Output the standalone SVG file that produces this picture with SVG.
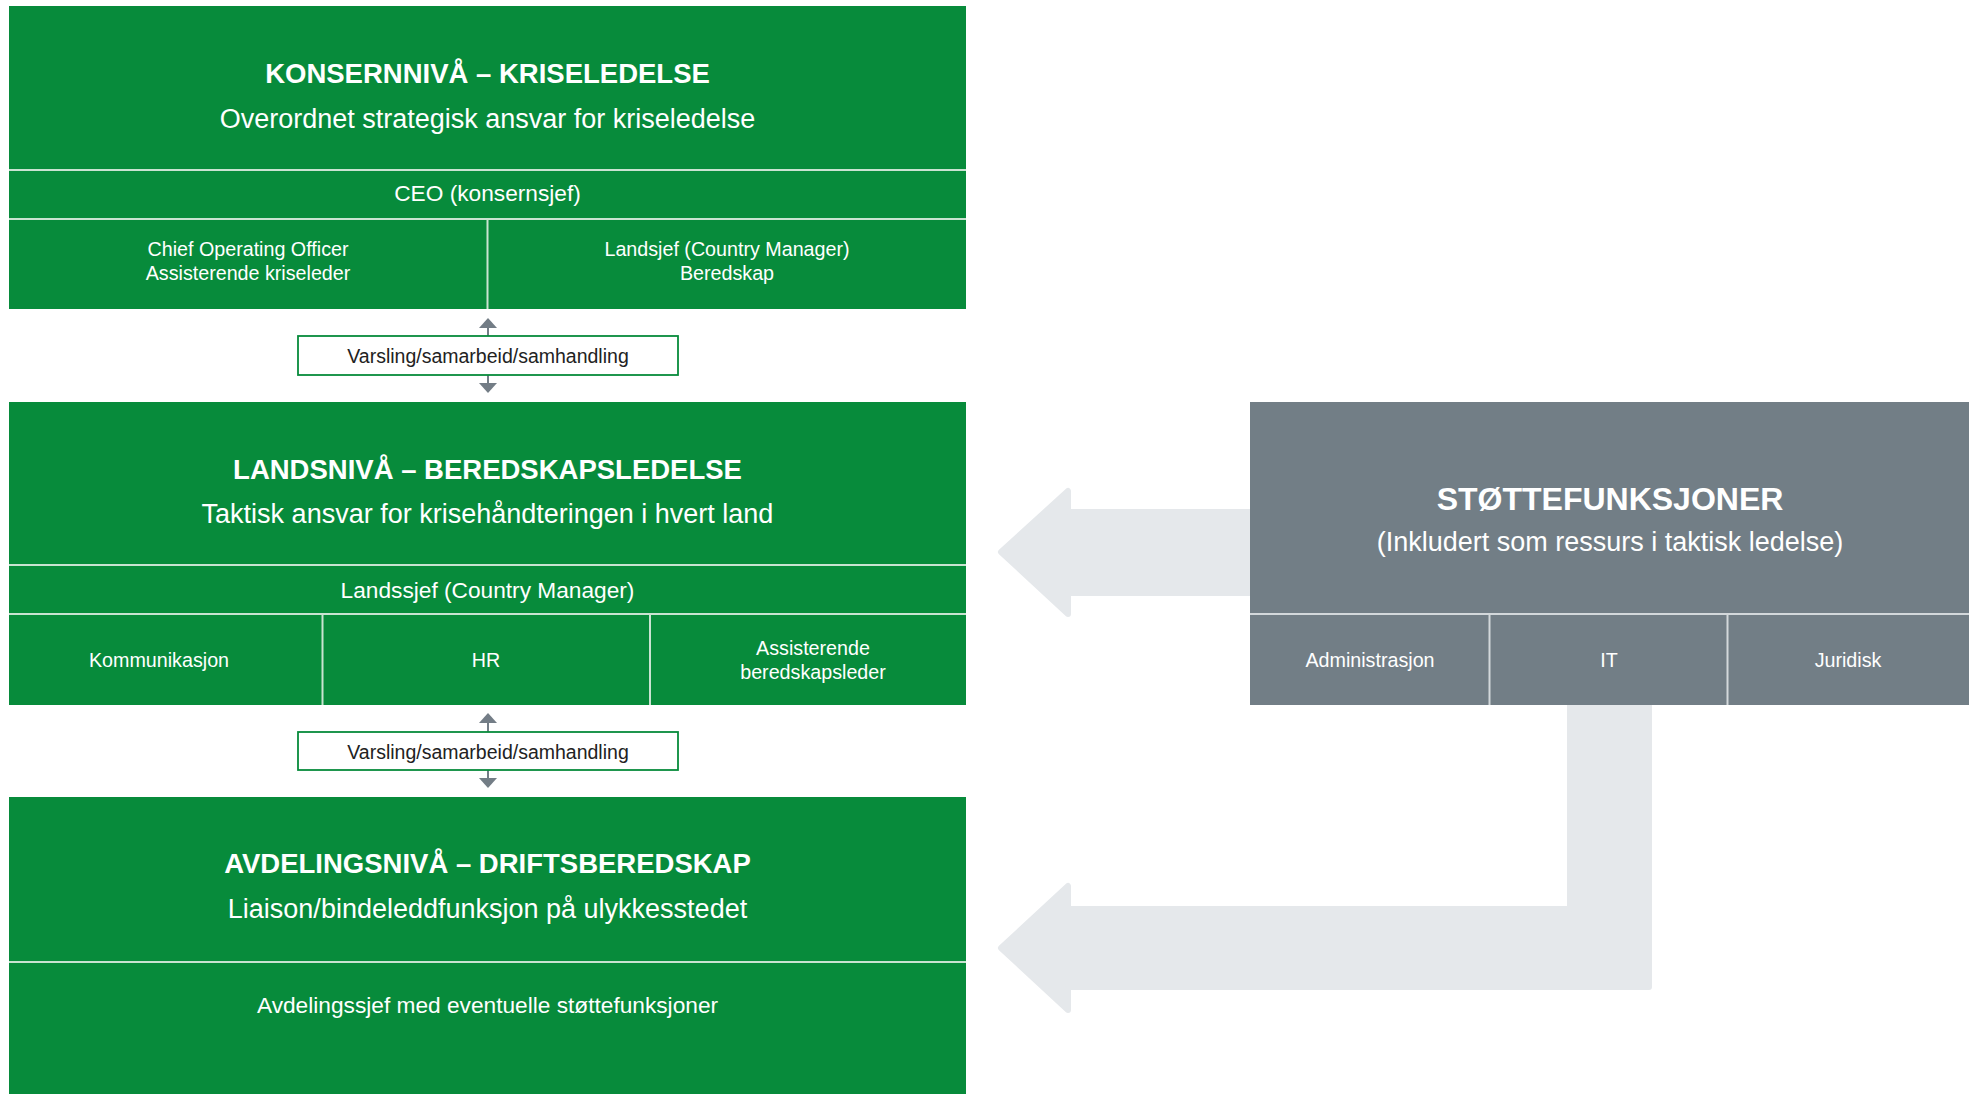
<svg xmlns="http://www.w3.org/2000/svg" width="1970" height="1094" viewBox="0 0 1970 1094">
<style>
.g{fill:#078b3b}
.s{fill:#727e86}
.dv{stroke:#c9e3d1;stroke-width:2;fill:none}
.dg{stroke:#d3d8db;stroke-width:2;fill:none}
text{font-family:"Liberation Sans",Arial,sans-serif;text-anchor:middle;fill:#ffffff}
.t{font-weight:bold;font-size:27.5px}
.st{font-size:27px}
.h{font-size:22.7px}
.sm{font-size:19.7px}
.lb{font-size:19.5px;fill:#222222}
.lbox{fill:#ffffff;stroke:#078b3b;stroke-width:1.8}
.big{fill:#e5e8eb;stroke:#e5e8eb;stroke-width:6;stroke-linejoin:round}
.sa{fill:#737d86}
.sl{stroke:#737d86;stroke-width:2}
</style>
<g id="connectors">
<path class="big" d="M1001,552 L1068,491 L1068,512 L1255,512 L1255,593 L1068,593 L1068,614 Z"/>
<path class="big" d="M1001,948 L1068,886 L1068,909 L1570,909 L1570,700 L1649,700 L1649,987 L1068,987 L1068,1010 Z"/>
<line class="sl" x1="488" y1="327" x2="488" y2="336"/>
<polygon class="sa" points="488,318 497,328 479,328"/>
<line class="sl" x1="488" y1="375" x2="488" y2="384"/>
<polygon class="sa" points="479,383 497,383 488,393"/>
<line class="sl" x1="488" y1="722" x2="488" y2="732"/>
<polygon class="sa" points="488,713 497,723 479,723"/>
<line class="sl" x1="488" y1="770" x2="488" y2="779"/>
<polygon class="sa" points="479,778 497,778 488,788"/>
</g>
<g id="konsern">
<rect class="g" x="9" y="6" width="957" height="303"/>
<line class="dv" x1="9" y1="170" x2="966" y2="170"/>
<line class="dv" x1="9" y1="219" x2="966" y2="219"/>
<line class="dv" x1="487.5" y1="219" x2="487.5" y2="309"/>
<text class="t" x="487.5" y="83">KONSERNNIVÅ – KRISELEDELSE</text>
<text class="st" x="487.5" y="128">Overordnet strategisk ansvar for kriseledelse</text>
<text class="h" x="487.5" y="201">CEO (konsernsjef)</text>
<text class="sm" x="248" y="256">Chief Operating Officer</text>
<text class="sm" x="248" y="280">Assisterende kriseleder</text>
<text class="sm" x="727" y="256">Landsjef (Country Manager)</text>
<text class="sm" x="727" y="280">Beredskap</text>
</g>
<g id="label1">
<rect class="lbox" x="298" y="336" width="380" height="39"/>
<text class="lb" x="488" y="362.5">Varsling/samarbeid/samhandling</text>
</g>
<g id="lands">
<rect class="g" x="9" y="402" width="957" height="303"/>
<line class="dv" x1="9" y1="565" x2="966" y2="565"/>
<line class="dv" x1="9" y1="614" x2="966" y2="614"/>
<line class="dv" x1="322.5" y1="614" x2="322.5" y2="705"/>
<line class="dv" x1="650" y1="614" x2="650" y2="705"/>
<text class="t" x="487.5" y="479">LANDSNIVÅ – BEREDSKAPSLEDELSE</text>
<text class="st" x="487.5" y="523">Taktisk ansvar for krisehåndteringen i hvert land</text>
<text class="h" x="487.5" y="598">Landssjef (Country Manager)</text>
<text class="sm" x="159" y="667">Kommunikasjon</text>
<text class="sm" x="486" y="667">HR</text>
<text class="sm" x="813" y="655">Assisterende</text>
<text class="sm" x="813" y="679">beredskapsleder</text>
</g>
<g id="label2">
<rect class="lbox" x="298" y="732" width="380" height="38"/>
<text class="lb" x="488" y="758.5">Varsling/samarbeid/samhandling</text>
</g>
<g id="avdeling">
<rect class="g" x="9" y="797" width="957" height="297"/>
<line class="dv" x1="9" y1="962" x2="966" y2="962"/>
<text class="t" x="487.5" y="873">AVDELINGSNIVÅ – DRIFTSBEREDSKAP</text>
<text class="st" x="487.5" y="918">Liaison/bindeleddfunksjon på ulykkesstedet</text>
<text class="h" x="487.5" y="1013">Avdelingssjef med eventuelle støttefunksjoner</text>
</g>
<g id="stotte">
<rect class="s" x="1250" y="402" width="719" height="303"/>
<line class="dg" x1="1250" y1="614" x2="1969" y2="614"/>
<line class="dg" x1="1489.5" y1="614" x2="1489.5" y2="705"/>
<line class="dg" x1="1727.5" y1="614" x2="1727.5" y2="705"/>
<text class="t" style="font-size:32px" x="1610" y="510">STØTTEFUNKSJONER</text>
<text class="st" x="1610" y="551">(Inkludert som ressurs i taktisk ledelse)</text>
<text class="sm" x="1370" y="667">Administrasjon</text>
<text class="sm" x="1609" y="667">IT</text>
<text class="sm" x="1848" y="667">Juridisk</text>
</g>
</svg>
